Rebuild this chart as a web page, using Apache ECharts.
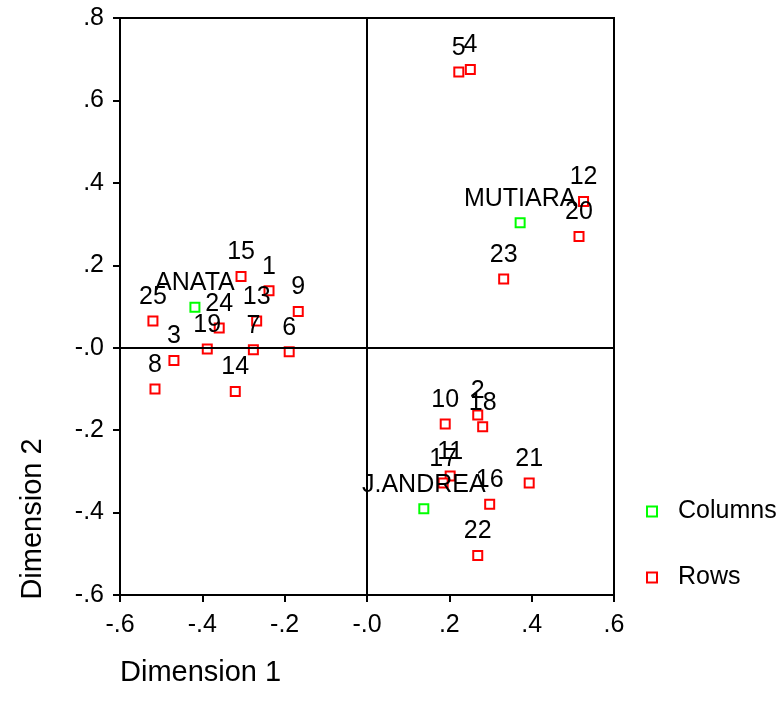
<!DOCTYPE html>
<html>
<head>
<meta charset="utf-8">
<script src="https://cdn.jsdelivr.net/npm/echarts@6/dist/echarts.min.js"></script>
<style>
  html, body { margin: 0; padding: 0; background: #fff; }
  #chart { width: 780px; height: 717px; }
</style>
</head>
<body>
<div id="chart"></div>
<script>
const FONT = '"Liberation Sans", Arial, sans-serif'

// column points (green)
const colNames = ['ANATA', 'MUTIARA', 'J.ANDREA']
const colX = [-0.418, 0.372, 0.138]
const colY = [0.098, 0.303, -0.391]

// row points (red), labelled 1..25
const rowNames = ['1', '2', '3', '4', '5', '6', '7', '8', '9', '10', '11', '12', '13',
  '14', '15', '16', '17', '18', '19', '20', '21', '22', '23', '24', '25']
const rowX = [-0.238, 0.269, -0.469, 0.251, 0.223, -0.189, -0.276, -0.515, -0.167, 0.190, 0.202, 0.526, -0.268,
  -0.320, -0.306, 0.298, 0.185, 0.281, -0.388, 0.515, 0.394, 0.269, 0.332, -0.359, -0.520]
const rowY = [0.138, -0.163, -0.031, 0.675, 0.669, -0.010, -0.005, -0.100, 0.088, -0.185, -0.311, 0.355, 0.065,
  -0.106, 0.173, -0.380, -0.328, -0.192, -0.003, 0.270, -0.328, -0.504, 0.167, 0.048, 0.065]

function tickFmt(v) {
  if (Math.abs(v) < 1e-9) return '-.0'
  const s = Math.abs(v).toFixed(1).replace(/^0/, '')
  return v < 0 ? '-' + s : s
}

function points(names, xs, ys) {
  return names.map((n, i) => ({ name: n, value: [xs[i], ys[i]] }))
}

function pointSeries(name, color, data) {
  return {
    name,
    type: 'scatter',
    symbol: 'rect',
    symbolSize: 9,
    itemStyle: { color: '#fff', borderColor: color, borderWidth: 2, opacity: 1 },
    label: {
      show: true,
      position: 'top',
      distance: 6,
      formatter: p => p.name,
      color: '#000',
      fontSize: 25,
      fontFamily: FONT,
    },
    emphasis: { disabled: true },
    data,
  }
}

const chart = echarts.init(document.getElementById('chart'))

const axisCommon = {
  type: 'value',
  interval: 0.2,
  axisLine: { show: true, onZero: false, lineStyle: { color: '#000', width: 2 } },
  axisTick: { show: true, length: 7, lineStyle: { color: '#000', width: 2 } },
  splitLine: { show: false },
  axisLabel: { color: '#000', fontSize: 25, fontFamily: FONT, formatter: tickFmt },
}

chart.setOption({
  animation: false,
  grid: {
    left: 120, top: 18, right: 166, bottom: 122,
    show: true, borderColor: '#000', borderWidth: 2, backgroundColor: 'transparent',
  },
  xAxis: { ...axisCommon, min: -0.6, max: 0.6, axisLabel: { ...axisCommon.axisLabel, margin: 18 } },
  yAxis: { ...axisCommon, min: -0.6, max: 0.8, axisLabel: { ...axisCommon.axisLabel, margin: 16 } },
  legend: {
    orient: 'vertical',
    left: 646,
    top: 499,
    padding: 0,
    itemWidth: 10,
    itemHeight: 10,
    itemGap: 41,
    itemTextGap: 22,
    textStyle: { color: '#000', fontSize: 25, fontFamily: FONT, padding: [0, 0, 0, 16] },
    data: ['Columns', 'Rows'],
  },
  graphic: [
    {
      type: 'text', x: 120, y: 673,
      style: { text: 'Dimension 1', fontSize: 29, fontFamily: FONT, fill: '#000', align: 'left', verticalAlign: 'middle' },
    },
    {
      type: 'text', x: 33, y: 519, rotation: Math.PI / 2,
      style: { text: 'Dimension 2', fontSize: 29, fontFamily: FONT, fill: '#000', align: 'center', verticalAlign: 'middle' },
    },
  ],
  series: [
    {
      ...pointSeries('Rows', '#ff0000', points(rowNames, rowX, rowY)),
      markLine: {
        silent: true,
        symbol: 'none',
        label: { show: false },
        lineStyle: { color: '#000', width: 2, type: 'solid' },
        data: [{ xAxis: 0 }, { yAxis: 0 }],
      },
    },
    pointSeries('Columns', '#00ff00', points(colNames, colX, colY)),
  ],
})
</script>
</body>
</html>
